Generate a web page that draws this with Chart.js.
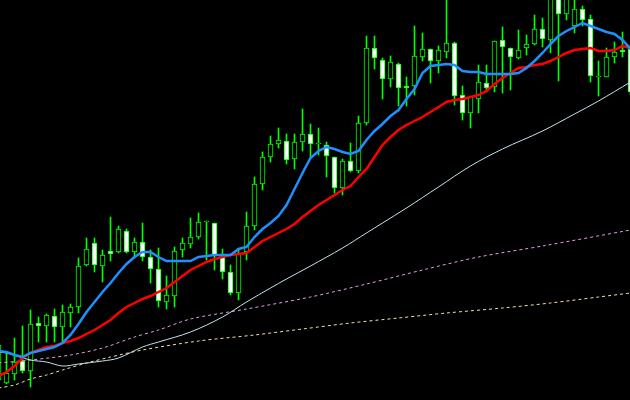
<!DOCTYPE html>
<html>
<head>
<meta charset="utf-8">
<script src="https://cdn.jsdelivr.net/npm/chart.js@4.4.1/dist/chart.umd.min.js"></script>
<style>
  html, body { margin: 0; padding: 0; background: #000; }
  #wrap { width: 630px; height: 400px; }
</style>
</head>
<body>
<div id="wrap"><canvas id="chart"></canvas></div>
<script>
// candles (one bar per index)
const opens = [
  1.2020,1.2017,1.2026,1.2039,1.2029,1.2077,1.2074,1.2084,1.2073,1.2087,
  1.2093,1.2135,1.2157,1.2134,1.2149,1.2148,1.2169,1.2148,1.2158,1.2143,
  1.2131,1.2098,1.2104,1.2150,1.2156,1.2163,1.2178,1.2177,1.2143,1.2128,
  1.2107,1.2148,1.2174,1.2216,1.2243,1.2256,1.2259,1.2241,1.2258,1.2266,
  1.2256,1.2255,1.2243,1.2212,1.2239,1.2229,1.2277,1.2352,1.2340,1.2321,
  1.2336,1.2314,1.2314,1.2343,1.2351,1.2339,1.2348,1.2357,1.2305,1.2287,
  1.2301,1.2317,1.2313,1.2360,1.2352,1.2342,1.2352,1.2356,1.2371,1.2360,
  1.2405,1.2386,1.2374,1.2391,1.2381,1.2323,1.2323,1.2343,1.2350,1.2351
];
const highs = [
  1.2062,1.2047,1.2062,1.2074,1.2090,1.2083,1.2086,1.2091,1.2095,1.2096,
  1.2142,1.2162,1.2162,1.2150,1.2183,1.2174,1.2171,1.2162,1.2177,1.2150,
  1.2152,1.2124,1.2153,1.2162,1.2182,1.2187,1.2179,1.2177,1.2151,1.2135,
  1.2151,1.2188,1.2223,1.2248,1.2264,1.2272,1.2266,1.2266,1.2291,1.2276,
  1.2272,1.2258,1.2243,1.2241,1.2257,1.2284,1.2364,1.2364,1.2342,1.2344,
  1.2337,1.2323,1.2374,1.2367,1.2351,1.2354,1.2402,1.2358,1.2314,1.2303,
  1.2335,1.2335,1.2359,1.2373,1.2352,1.2370,1.2365,1.2385,1.2382,1.2410,
  1.2410,1.2408,1.2400,1.2394,1.2385,1.2339,1.2352,1.2358,1.2368,1.2355
];
const lows = [
  1.2012,1.2016,1.2020,1.2027,1.2013,1.2058,1.2058,1.2058,1.2058,1.2073,
  1.2087,1.2134,1.2128,1.2118,1.2139,1.2147,1.2147,1.2142,1.2139,1.2117,
  1.2093,1.2091,1.2093,1.2143,1.2152,1.2161,1.2140,1.2130,1.2121,1.2105,
  1.2100,1.2140,1.2170,1.2210,1.2238,1.2252,1.2236,1.2231,1.2249,1.2243,
  1.2245,1.2223,1.2207,1.2205,1.2228,1.2227,1.2275,1.2331,1.2301,1.2313,
  1.2294,1.2294,1.2305,1.2339,1.2317,1.2327,1.2342,1.2295,1.2280,1.2272,
  1.2287,1.2308,1.2308,1.2307,1.2310,1.2341,1.2345,1.2355,1.2353,1.2347,
  1.2319,1.2380,1.2367,1.2374,1.2318,1.2304,1.2323,1.2337,1.2343,1.2305
];
const closes = [
  1.2055,1.2027,1.2038,1.2029,1.2076,1.2074,1.2085,1.2073,1.2088,1.2093,
  1.2134,1.2151,1.2135,1.2145,1.2146,1.2171,1.2148,1.2158,1.2143,1.2131,
  1.2099,1.2105,1.2149,1.2157,1.2163,1.2178,1.2179,1.2144,1.2128,1.2107,
  1.2147,1.2174,1.2216,1.2243,1.2256,1.2260,1.2240,1.2258,1.2266,1.2256,
  1.2257,1.2244,1.2212,1.2239,1.2229,1.2277,1.2352,1.2342,1.2321,1.2338,
  1.2312,1.2312,1.2344,1.2351,1.2339,1.2350,1.2357,1.2304,1.2287,1.2303,
  1.2318,1.2312,1.2359,1.2353,1.2343,1.2350,1.2356,1.2371,1.2361,1.2403,
  1.2386,1.2403,1.2391,1.2380,1.2324,1.2324,1.2343,1.2348,1.2348,1.2308
];

// moving averages, also
const maFast = [
  1.2049,1.2048,1.2045,1.2043,1.2047,1.2049,1.2051,1.2053,1.2057,1.2065,
  1.2076,1.2088,1.2098,1.2108,1.2117,1.2127,1.2136,1.2143,1.2148,1.2148,
  1.2143,1.2139,1.2139,1.2139,1.2139,1.2143,1.2144,1.2145,1.2145,1.2145,
  1.2151,1.2153,1.2163,1.2171,1.2177,1.2184,1.2195,1.2211,1.2227,1.2242,
  1.2249,1.2253,1.2251,1.2248,1.2246,1.2249,1.2260,1.2269,1.2276,1.2284,
  1.2290,1.2301,1.2311,1.2327,1.2334,1.2335,1.2336,1.2335,1.2329,1.2328,
  1.2328,1.2326,1.2326,1.2326,1.2326,1.2327,1.2332,1.2339,1.2347,1.2356,
  1.2364,1.2369,1.2373,1.2377,1.2374,1.2371,1.2368,1.2366,1.2360,1.2351
];
const maMid = [
  1.2024,1.2028,1.2034,1.2042,1.2047,1.2050,1.2053,1.2054,1.2057,1.2059,
  1.2062,1.2066,1.2070,1.2075,1.2080,1.2087,1.2093,1.2097,1.2101,1.2104,
  1.2108,1.2112,1.2118,1.2124,1.2130,1.2134,1.2138,1.2141,1.2143,1.2145,
  1.2146,1.2147,1.2153,1.2159,1.2163,1.2167,1.2171,1.2176,1.2183,1.2189,
  1.2195,1.2200,1.2205,1.2210,1.2214,1.2223,1.2231,1.2243,1.2255,1.2263,
  1.2270,1.2275,1.2279,1.2283,1.2288,1.2293,1.2298,1.2300,1.2301,1.2303,
  1.2305,1.2309,1.2316,1.2322,1.2327,1.2332,1.2333,1.2335,1.2336,1.2339,
  1.2343,1.2347,1.2350,1.2351,1.2352,1.2349,1.2349,1.2350,1.2354,1.2352
];
const maSlowIdx = [0,1,4,6,8,10,13,15,18,20,24,28,31,34,36,39,43,46,48,51,55,59,63,68,72,75,79];
const maSlow = [1.2048,1.2047,1.2040,1.2038,1.2034,1.2036,1.2039,1.2042,1.2053,1.2058,1.2068,1.2083,1.2098,1.2112,
  1.2121,1.2134,1.2152,1.2167,1.2177,1.2192,1.2213,1.2234,1.2251,1.2269,1.2286,1.2299,1.2318];
const ma100Idx = [0,4,9,13,17,20,24,31,39,46,53,60,68,79];
const ma100 = [1.2037,1.2040,1.2045,1.2052,1.2063,1.2070,1.2081,1.2091,1.2103,1.2116,1.2130,1.2143,1.2154,1.2170];
const ma200Idx = [0,2,4,6,8,11,14,18,25,32,38,44,50,56,63,69,75,79];
const ma200 = [1.2012,1.2015,1.2021,1.2025,1.2030,1.2037,1.2043,1.2050,1.2059,1.2065,1.2071,1.2077,1.2082,1.2087,
  1.2092,1.2097,1.2103,1.2107];

const green = '#00ff00';

const wicks = opens.map((o, i) => ({ x: i, y: [lows[i], highs[i]] }));
const bodies = opens.map((o, i) => ({ x: i, y: [o, closes[i]] }));
const bodyFill = opens.map((o, i) => (closes[i] >= o ? '#000000' : '#ffffff'));

const pts = (idx, vals) => vals.map((v, i) => ({ x: idx[i], y: v }));
const seq = (vals) => vals.map((v, i) => ({ x: i, y: v }));

function line(data, color, width, dash, order, tension) {
  return {
    type: 'line',
    data,
    borderColor: color,
    borderWidth: width,
    borderDash: dash || [],
    pointRadius: 0,
    tension: tension || 0,
    fill: false,
    order
  };
}

new Chart(document.getElementById('chart'), {
  type: 'bar',
  data: {
    datasets: [
      line(seq(maFast), '#1e90ff', 2.5, null, 0),
      line(seq(maMid), '#ff0000', 2.5, null, 1),
      line(pts(maSlowIdx, maSlow), '#c4e4f0', 1, null, 2, 0.35),
      line(pts(ma100Idx, ma100), '#e0a0e0', 1, [3, 3], 3, 0.3),
      line(pts(ma200Idx, ma200), '#f5dfb0', 1, [3, 3], 4, 0.3),
      {
        type: 'bar',
        data: bodies,
        backgroundColor: bodyFill,
        borderColor: green,
        borderWidth: 1,
        borderSkipped: false,
        barThickness: 5,
        grouped: false,
        order: 5
      },
      {
        type: 'bar',
        data: wicks,
        backgroundColor: green,
        borderWidth: 0,
        barThickness: 1,
        grouped: false,
        order: 6
      }
    ]
  },
  options: {
    responsive: true,
    maintainAspectRatio: false,
    animation: false,
    events: [],
    layout: { padding: 0 },
    plugins: { legend: { display: false }, tooltip: { enabled: false } },
    scales: {
      x: { type: 'linear', min: 0.1875, max: 78.9375, offset: false, display: false },
      y: { min: 1.2000, max: 1.2400, display: false }
    }
  }
});
</script>
</body>
</html>
